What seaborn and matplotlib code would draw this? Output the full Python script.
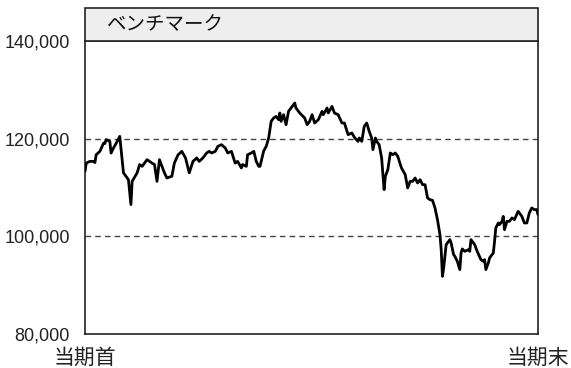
import matplotlib
matplotlib.use("Agg")
import matplotlib.pyplot as plt
from matplotlib.patches import Rectangle
import pandas as pd
import seaborn as sns

# Benchmark level over the period (day index from period start)
days = [0, 1, 4, 7, 8, 9, 12, 15, 16, 17, 20, 21, 23, 26, 28, 31, 34, 35, 37, 38,
        42, 44, 46, 50, 54, 56, 58, 60, 63, 64, 66, 70, 72, 75, 78, 81, 84, 87, 90, 92,
        95, 98, 100, 102, 105, 107, 110, 113, 115, 118, 121, 123, 126, 127, 130, 131, 134, 136, 138, 140,
        141, 144, 146, 148, 150, 152, 154, 156, 157, 158, 160, 162, 164, 166, 169, 170, 173, 177, 179, 181,
        183, 185, 188, 191, 192, 195, 196, 199, 201, 204, 207, 209, 212, 215, 217, 220, 221, 223, 225, 227,
        229, 231, 232, 234, 235, 237, 239, 241, 242, 244, 246, 248, 250, 252, 255, 258, 260, 262, 264, 266,
        268, 270, 272, 274, 276, 278, 280, 282, 284, 286, 287, 288, 289, 291, 293, 294, 295, 297, 298, 300,
        302, 303, 304, 306, 309, 310, 311, 314, 316, 319, 321, 322, 323, 325, 326, 329, 330, 331, 333, 334,
        336, 337, 338, 340, 342, 344, 346, 349, 352, 354, 356, 358, 360, 362, 364, 365]
values = [113300, 115000, 115350, 115350, 115100, 116700, 117400, 119100, 119000, 119800,
          119450, 117050, 118100, 119450, 120470, 113000, 111950, 111600, 106500, 111260,
          113000, 114700, 114330, 115700, 115000, 114700, 111260, 115700, 113650, 113000,
          111950, 112300, 115000, 116700, 117400, 116050, 113000, 115350, 116050, 115350,
          116050, 117070, 117400, 117070, 117400, 118420, 118770, 118100, 117070, 117400,
          115000, 115350, 114000, 114700, 114330, 116700, 117070, 117400, 115350, 114330,
          114330, 117500, 118420, 120140, 123540, 124240, 124560, 123890, 125260, 123540,
          124910, 122860, 125590, 126280, 127300, 126280, 125260, 124240, 122860, 123540,
          124910, 123210, 123890, 125590, 124910, 126280, 125260, 126610, 125260, 124910,
          123210, 123210, 120820, 121170, 120300, 119450, 120140, 119450, 122520, 123210,
          121490, 120140, 117750, 120140, 119450, 118770, 116050, 109560, 112280, 113650,
          117070, 116720, 117070, 116380, 114000, 112630, 109910, 111260, 111260, 111950,
          110930, 111600, 110580, 110580, 107860, 107510, 107370, 105810, 103420, 100350,
          97280, 91810, 93530, 98300, 98980, 99320, 98650, 96250, 95910, 94880,
          93180, 96600, 97420, 96930, 97280, 96930, 99320, 98300, 96930, 95230,
          94880, 95230, 93180, 94550, 95580, 96600, 98980, 101720, 102740, 102400,
          103070, 104090, 101370, 103070, 103070, 103770, 103420, 105120, 104090, 102740,
          102740, 104790, 105810, 105470, 105470, 104440]

y_ticks = [80000, 100000, 120000, 140000]
grid_levels = [100000, 120000]
x_ticks = [0, 365]
x_labels = ["当期首", "当期末"]
title = "ベンチマーク"

sns.set_style("white")
plt.rcParams["font.family"] = ["Liberation Sans", "Noto Sans CJK JP", "DejaVu Sans"]

fig = plt.figure(figsize=(5.71, 3.68), dpi=100)
ax = fig.add_axes([85 / 571, 34 / 368, 453 / 571, 293 / 368])

df = pd.DataFrame({"day": days, "value": values})
sns.lineplot(data=df, x="day", y="value", color="black", linewidth=2.0, ax=ax, zorder=3)

for lvl in grid_levels:
    ax.axhline(lvl, color="#444444", linewidth=1.0, linestyle=(0, (4, 3)), zorder=1)

ax.set_xlim(x_ticks[0], x_ticks[-1])
ax.set_ylim(y_ticks[0], y_ticks[-1])
ax.set_yticks(y_ticks)
ax.set_yticklabels([f"{v:,}" for v in y_ticks])
ax.set_xticks(x_ticks)
ax.set_xticklabels(x_labels)
ax.set_xlabel("")
ax.set_ylabel("")
ax.tick_params(axis="y", length=0, labelsize=13, pad=11, colors="#222222")
ax.tick_params(axis="x", length=0, labelsize=15, pad=9, colors="#222222")
for lbl in ax.get_xticklabels():
    lbl.set_family(["Noto Sans CJK JP", "DejaVu Sans"])

for side in ["left", "bottom", "right", "top"]:
    ax.spines[side].set_visible(True)
    ax.spines[side].set_color("#222222")
    ax.spines[side].set_linewidth(1.2)

# Title band sitting on top of the plot area
band_h = 33 / 293
ax.add_patch(Rectangle((0, 1), 1, band_h, transform=ax.transAxes, clip_on=False,
                       facecolor="#eeeeee", edgecolor="#222222", linewidth=1.2, zorder=5))
ax.text((107 - 85) / 453, 1 + band_h / 2, title, transform=ax.transAxes,
        ha="left", va="center", fontsize=14, color="#111111", zorder=6,
        family=["Noto Sans CJK JP", "DejaVu Sans"])

fig.savefig("out.png", dpi=100)
